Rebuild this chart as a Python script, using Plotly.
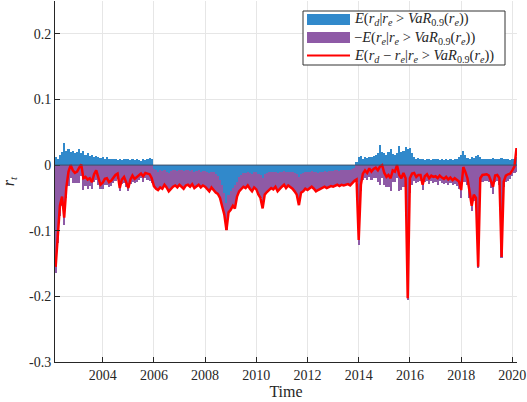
import pandas as pd
import plotly.graph_objects as go

# Monthly observations, March 2002 .. March 2020 (217 months)
months = pd.date_range(start="2002-03-01", periods=217, freq="MS")

# E(r_d | r_e > VaR_0.9(r_e))
blue_vals = [
    0.012, 0.010, 0.015, 0.020, 0.033, 0.022, 0.025, 0.020, 0.022, 0.018,
    0.020, 0.025, 0.018, 0.022, 0.016, 0.018, 0.014, 0.015, 0.013, 0.014, 0.012, 0.011,
    0.012, 0.010, 0.013, 0.009, 0.010, 0.009, 0.010, 0.008, 0.009, 0.008, 0.010, 0.009,
    0.009, 0.008, 0.010, 0.008, 0.009, 0.008, 0.007, 0.009, 0.008, 0.010, 0.011, 0.009,
    -0.006, -0.008, -0.010, -0.008, -0.009, -0.007, -0.010, -0.012, -0.009, -0.008, -0.007, -0.009,
    -0.008, -0.007, -0.009, -0.008, -0.007, -0.009, -0.008, -0.010, -0.009, -0.008, -0.010, -0.009,
    -0.009, -0.011, -0.012, -0.010, -0.011, -0.013, -0.016, -0.022, -0.030, -0.042, -0.058, -0.045,
    -0.040, -0.035, -0.030, -0.025, -0.018, -0.015, -0.012, -0.012, -0.011, -0.012, -0.013, -0.011,
    -0.011, -0.013, -0.015, -0.020, -0.014, -0.012, -0.011, -0.010, -0.011, -0.010, -0.012, -0.011,
    -0.010, -0.009, -0.011, -0.010, -0.010, -0.011, -0.012, -0.014, -0.018, -0.013, -0.012, -0.011,
    -0.011, -0.010, -0.009, -0.010, -0.011, -0.012, -0.011, -0.010, -0.009, -0.010, -0.009, -0.009,
    -0.009, -0.008, -0.008, -0.009, -0.008, -0.008, -0.007, -0.007, -0.008, -0.006, -0.004, 0.004,
    0.012, 0.014, 0.010, 0.012, 0.011, 0.013, 0.012, 0.014, 0.015, 0.018, 0.030, 0.020,
    0.018, 0.016, 0.020, 0.024, 0.017, 0.015, 0.019, 0.029, 0.020, 0.022, 0.028, 0.024,
    0.026, 0.018, 0.012, 0.010, 0.011, 0.009, 0.010, 0.008, 0.010, 0.009, 0.008, 0.009,
    0.009, 0.010, 0.008, 0.009, 0.008, 0.009, 0.008, 0.009, 0.008, 0.009, 0.010, 0.012,
    0.016, 0.022, 0.015, 0.011, 0.010, 0.012, 0.011, 0.014, 0.016, 0.012, 0.010, 0.009,
    0.010, 0.009, 0.010, 0.011, 0.010, 0.009, 0.010, 0.011, 0.010, 0.009, 0.010, 0.008,
    0.009, 0.010, 0.012,
]

# -E(r_e | r_e > VaR_0.9(r_e))
purple_vals = [
    -0.165, -0.118, -0.077, -0.062, -0.092, -0.050, -0.032, -0.020, -0.028, -0.028,
    -0.028, -0.027, -0.017, -0.038, -0.032, -0.036, -0.032, -0.037, -0.026, -0.022, -0.030, -0.037,
    -0.036, -0.030, -0.031, -0.033, -0.032, -0.027, -0.024, -0.021, -0.040, -0.029, -0.027, -0.033,
    -0.040, -0.029, -0.025, -0.028, -0.026, -0.022, -0.020, -0.025, -0.020, -0.022, -0.024, -0.028,
    -0.026, -0.028, -0.028, -0.026, -0.027, -0.023, -0.024, -0.028, -0.027, -0.025, -0.024, -0.025,
    -0.022, -0.026, -0.027, -0.023, -0.023, -0.024, -0.021, -0.025, -0.023, -0.022, -0.024, -0.022,
    -0.024, -0.025, -0.028, -0.024, -0.027, -0.029, -0.028, -0.028, -0.033, -0.033, -0.041, -0.027,
    -0.028, -0.027, -0.036, -0.023, -0.022, -0.021, -0.021, -0.023, -0.020, -0.024, -0.027, -0.023,
    -0.026, -0.032, -0.035, -0.046, -0.031, -0.029, -0.027, -0.025, -0.026, -0.023, -0.028, -0.025,
    -0.023, -0.021, -0.024, -0.021, -0.023, -0.025, -0.028, -0.031, -0.043, -0.029, -0.028, -0.025,
    -0.027, -0.025, -0.024, -0.026, -0.029, -0.026, -0.025, -0.024, -0.024, -0.025, -0.024, -0.023,
    -0.024, -0.023, -0.022, -0.023, -0.022, -0.023, -0.023, -0.022, -0.023, -0.021, -0.020, -0.026,
    -0.122, -0.040, -0.023, -0.020, -0.023, -0.018, -0.022, -0.020, -0.019, -0.026, -0.030, -0.020,
    -0.030, -0.033, -0.034, -0.040, -0.025, -0.025, -0.019, -0.040, -0.038, -0.033, -0.042, -0.205,
    -0.042, -0.030, -0.024, -0.028, -0.026, -0.024, -0.038, -0.025, -0.024, -0.029, -0.024, -0.027,
    -0.026, -0.030, -0.024, -0.028, -0.029, -0.027, -0.030, -0.028, -0.031, -0.029, -0.032, -0.036,
    -0.050, -0.025, -0.025, -0.031, -0.050, -0.070, -0.054, -0.060, -0.157, -0.030, -0.025, -0.024,
    -0.024, -0.025, -0.035, -0.044, -0.026, -0.024, -0.030, -0.142, -0.034, -0.025, -0.024, -0.021,
    -0.017, -0.012, -0.010,
]

# E(r_d - r_e | r_e > VaR_0.9(r_e))
red_vals = [
    -0.155, -0.105, -0.062, -0.048, -0.080, -0.034, -0.010, 0.000, -0.008, -0.012,
    -0.010, -0.004, 0.001, -0.020, -0.018, -0.022, -0.020, -0.026, -0.014, -0.008, -0.020, -0.030,
    -0.027, -0.021, -0.020, -0.026, -0.024, -0.019, -0.015, -0.013, -0.035, -0.022, -0.018, -0.026,
    -0.035, -0.022, -0.016, -0.021, -0.018, -0.015, -0.013, -0.017, -0.012, -0.013, -0.014, -0.020,
    -0.032, -0.036, -0.038, -0.034, -0.036, -0.030, -0.034, -0.040, -0.036, -0.033, -0.031, -0.034,
    -0.030, -0.033, -0.036, -0.031, -0.030, -0.033, -0.029, -0.035, -0.032, -0.030, -0.034, -0.031,
    -0.033, -0.036, -0.040, -0.034, -0.038, -0.042, -0.044, -0.050, -0.063, -0.075, -0.099, -0.072,
    -0.068, -0.062, -0.066, -0.048, -0.040, -0.036, -0.033, -0.035, -0.031, -0.036, -0.040, -0.034,
    -0.037, -0.045, -0.050, -0.066, -0.045, -0.041, -0.038, -0.035, -0.037, -0.033, -0.040, -0.036,
    -0.033, -0.030, -0.035, -0.031, -0.033, -0.036, -0.040, -0.045, -0.061, -0.042, -0.040, -0.036,
    -0.038, -0.035, -0.033, -0.036, -0.040, -0.038, -0.036, -0.034, -0.033, -0.035, -0.033, -0.032,
    -0.033, -0.031, -0.030, -0.032, -0.030, -0.031, -0.030, -0.029, -0.031, -0.027, -0.024, -0.022,
    -0.114, -0.030, -0.013, -0.008, -0.012, -0.005, -0.010, -0.006, -0.004, -0.008, -0.002, 0.000,
    -0.012, -0.018, -0.015, -0.020, -0.008, -0.010, 0.000, -0.015, -0.020, -0.012, -0.020, -0.203,
    -0.020, -0.013, -0.012, -0.018, -0.015, -0.015, -0.030, -0.017, -0.014, -0.020, -0.016, -0.018,
    -0.017, -0.020, -0.016, -0.019, -0.021, -0.018, -0.022, -0.019, -0.023, -0.020, -0.022, -0.025,
    -0.038, -0.003, -0.010, -0.020, -0.040, -0.062, -0.045, -0.050, -0.155, -0.020, -0.015, -0.015,
    -0.014, -0.016, -0.025, -0.033, -0.016, -0.015, -0.020, -0.140, -0.025, -0.016, -0.014, -0.013,
    -0.008, -0.002, 0.026,
]

x_tick_years = [2004, 2006, 2008, 2010, 2012, 2014, 2016, 2018, 2020]
x_tick_labels = [str(y) for y in x_tick_years]
y_tick_vals = [-0.3, -0.2, -0.1, 0, 0.1, 0.2]
y_tick_labels = ["-0.3", "-0.2", "-0.1", "0", "0.1", "0.2"]

names = [
    "<i>E</i>(<i>r<sub>d</sub></i>|<i>r<sub>e</sub></i> > <i>VaR</i><sub>0.9</sub>(<i>r<sub>e</sub></i>))",
    "−<i>E</i>(<i>r<sub>e</sub></i>|<i>r<sub>e</sub></i> > <i>VaR</i><sub>0.9</sub>(<i>r<sub>e</sub></i>))",
    "<i>E</i>(<i>r<sub>d</sub></i> − <i>r<sub>e</sub></i>|<i>r<sub>e</sub></i> > <i>VaR</i><sub>0.9</sub>(<i>r<sub>e</sub></i>))",
]

BLUE = "#3189CB"
PURPLE = "#8E5AA6"
RED = "#FF0000"
FONT = "Liberation Serif, DejaVu Serif, serif"
BAR_W = 31 * 86400000

W, H = 527, 402
ML, MR, MT, MB = 55, 10, 1, 40


def px_x(p):
    return (p - ML) / (W - ML - MR)


def px_y(p):
    return (H - MB - p) / (H - MT - MB)


fig = go.Figure()
fig.add_trace(go.Bar(x=months, y=blue_vals, name=names[0], width=BAR_W, showlegend=False,
                     marker=dict(color=BLUE, line=dict(width=0))))
fig.add_trace(go.Bar(x=months, y=purple_vals, name=names[1], width=BAR_W, showlegend=False,
                     marker=dict(color=PURPLE, line=dict(width=0))))
fig.add_trace(go.Scatter(x=months, y=red_vals, name=names[2], mode="lines", showlegend=False,
                         line=dict(color=RED, width=2.5)))

# baseline at zero
fig.add_shape(type="line", xref="paper", x0=0, x1=1, yref="y", y0=0, y1=0,
              line=dict(color="#3d4f68", width=1), layer="above")

# legend box (drawn by hand to match the compact original legend)
fig.add_shape(type="rect", xref="paper", yref="paper",
              x0=px_x(303), x1=px_x(505), y0=px_y(65), y1=px_y(11),
              fillcolor="white", line=dict(color="#333333", width=1), layer="above")
rows = [19.5, 37.5, 55.5]
fig.add_shape(type="rect", xref="paper", yref="paper",
              x0=px_x(307), x1=px_x(350), y0=px_y(rows[0] + 5.5), y1=px_y(rows[0] - 5.5),
              fillcolor=BLUE, line=dict(width=0), layer="above")
fig.add_shape(type="rect", xref="paper", yref="paper",
              x0=px_x(307), x1=px_x(350), y0=px_y(rows[1] + 5.5), y1=px_y(rows[1] - 5.5),
              fillcolor=PURPLE, line=dict(width=0), layer="above")
fig.add_shape(type="line", xref="paper", yref="paper",
              x0=px_x(307), x1=px_x(350), y0=px_y(rows[2]), y1=px_y(rows[2]),
              line=dict(color=RED, width=2), layer="above")
for nm, r in zip(names, rows):
    fig.add_annotation(xref="paper", yref="paper", x=px_x(352), y=px_y(r),
                       xanchor="left", yanchor="middle", text=nm, showarrow=False,
                       font=dict(family=FONT, size=14.5, color="#262626"))

fig.update_layout(
    width=W, height=H,
    margin=dict(l=ML, r=MR, t=MT, b=MB),
    paper_bgcolor="white", plot_bgcolor="white",
    barmode="relative", bargap=0,
    font=dict(family=FONT, size=14, color="#262626"),
    showlegend=False,
    xaxis=dict(
        type="date",
        range=["2002-02-20", "2020-03-08"],
        tickvals=[f"{y}-01-01" for y in x_tick_years],
        ticktext=x_tick_labels,
        showgrid=True, gridcolor="#e6e6e6", gridwidth=1,
        showline=True, linecolor="#262626", linewidth=1,
        ticks="inside", ticklen=5, tickcolor="#262626",
        zeroline=False,
        title=dict(text="Time", font=dict(family=FONT, size=16), standoff=2),
    ),
    yaxis=dict(
        range=[-0.3, 0.25],
        tickvals=y_tick_vals, ticktext=y_tick_labels,
        showgrid=True, gridcolor="#e6e6e6", gridwidth=1,
        showline=True, linecolor="#262626", linewidth=1,
        ticks="inside", ticklen=5, tickcolor="#262626",
        zeroline=False,
        title=dict(text="<i>r<sub>t</sub></i>", font=dict(family=FONT, size=16), standoff=10),
    ),
)

fig.write_html("out.html", config={"displayModeBar": False},
               post_script="document.body.style.margin='0';")
